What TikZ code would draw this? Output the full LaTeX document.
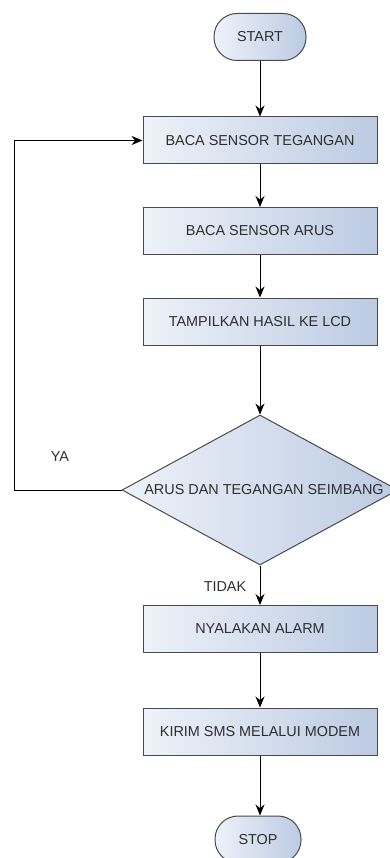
\documentclass[tikz,border=0pt]{standalone}
\usepackage{fontspec}
\setmainfont{Liberation Sans}
\usetikzlibrary{arrows.meta,shapes.geometric}
\definecolor{isiA}{HTML}{EEF2F9}
\definecolor{isiB}{HTML}{BCCBE3}
\definecolor{garis}{HTML}{4A4A4A}
\definecolor{teks}{HTML}{2E2E2E}
\begin{document}
\begin{tikzpicture}[x=1pt,y=-1pt,
  proses/.style={rectangle, draw=garis, line width=1pt, left color=isiA, right color=isiB, minimum width=234pt, minimum height=47pt, inner sep=0pt, text=teks, font=\fontsize{14.4}{16}\selectfont},
  terminal/.style={proses, rounded corners=23pt, minimum width=92pt},
  keputusan/.style={diamond, shape aspect=1.84, draw=garis, line width=1pt, left color=isiA, right color=isiB, minimum width=276pt, minimum height=150pt, inner sep=0pt, text=teks, font=\fontsize{14.4}{16}\selectfont},
  label/.style={text=teks, font=\fontsize{14.4}{16}\selectfont},
  panah/.style={-{Stealth[length=11pt,width=9pt]}, line width=1pt, black}]
\useasboundingbox (0,0) rectangle (390,858);
\node[terminal] (S) at (260,37) {START};
\node[proses] (T) at (260,140.5) {BACA SENSOR TEGANGAN};
\node[proses] (A) at (260,231) {BACA SENSOR ARUS};
\node[proses] (L) at (260,321.5) {TAMPILKAN HASIL KE LCD};
\node[keputusan] (K) at (260,490) {\hspace*{8pt}ARUS DAN TEGANGAN SEIMBANG};
\node[proses] (N) at (260,629) {NYALAKAN ALARM};
\node[proses] (M) at (260,731.5) {KIRIM SMS MELALUI MODEM};
\node[terminal, minimum width=86pt] (E) at (258,839.5) {STOP};
\node[label] (ya) at (60,457) {YA};
\node[label] (tidak) at (225,587) {TIDAK};
\draw[panah] (S) -- (T);
\draw[panah] (T) -- (A);
\draw[panah] (A) -- (L);
\draw[panah] (L) -- (K);
\draw[panah] (K) -- (N);
\draw[panah] (N) -- (M);
\draw[panah] (M) -- (E.north -| M.south);
\draw[panah] (K.west) -| ([xshift=-128pt]T.west) -- (T.west);
\end{tikzpicture}
\end{document}
